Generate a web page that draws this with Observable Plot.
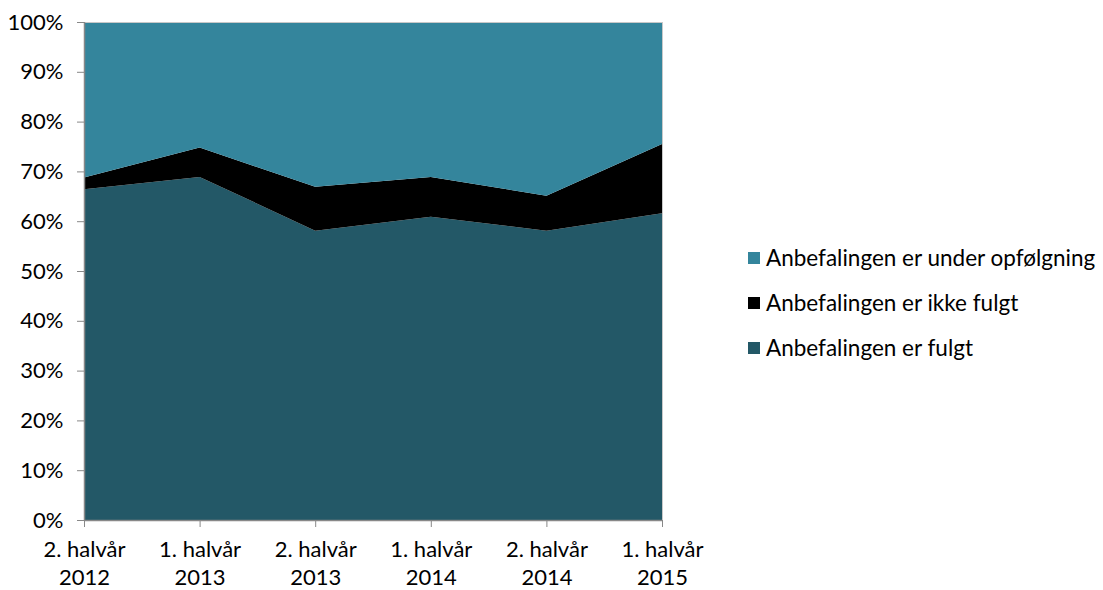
<!DOCTYPE html>
<html>
<head>
<meta charset="utf-8">
<script src="https://cdn.jsdelivr.net/npm/d3@7"></script>
<script src="https://cdn.jsdelivr.net/npm/@observablehq/plot@0.6"></script>
<style>
  html, body { margin: 0; padding: 0; background: #fff; }
  #wrap { position: relative; width: 1103px; height: 590px; font-family: Lato, "Open Sans", sans-serif; }
  #legend { position: absolute; left: 748px; top: 235px; font-size: 22.5px; color: #000; }
  .row { display: flex; align-items: center; height: 45px; white-space: nowrap; }
  .sw { width: 12px; height: 12px; margin-right: 6px; }
</style>
</head>
<body>
<div id="wrap"></div>
<script>
const periods = ["2. halvår\n2012", "1. halvår\n2013", "2. halvår\n2013", "1. halvår\n2014", "2. halvår\n2014", "1. halvår\n2015"];
const seriesNames = ["Anbefalingen er fulgt", "Anbefalingen er ikke fulgt", "Anbefalingen er under opfølgning"];
const fulgt = [66.4, 68.9, 58.1, 60.9, 58.1, 61.6];
const ikkeFulgt = [2.4, 5.9, 8.8, 8.0, 7.0, 13.9];
const underOpfolgning = [31.2, 25.2, 33.1, 31.1, 34.9, 24.5];
const yTicks = [0, 10, 20, 30, 40, 50, 60, 70, 80, 90, 100];
const colors = ["#235867", "#000000", "#34859c"];

const seriesValues = [fulgt, ikkeFulgt, underOpfolgning];
const data = [];
seriesNames.forEach((s, si) => {
  periods.forEach((p, i) => data.push({ i, period: p, series: s, value: seriesValues[si][i] }));
});

const chart = Plot.plot({
  width: 1103,
  height: 590,
  marginLeft: 84,
  marginRight: 441,
  marginTop: 22,
  marginBottom: 70,
  style: { fontFamily: "Lato, 'Open Sans', sans-serif", fontSize: "22px", color: "#000", background: "#fff" },
  x: { domain: [0, periods.length - 1], label: null },
  y: { domain: [0, 100], label: null },
  color: { domain: seriesNames, range: colors },
  marks: [
    Plot.areaY(data, { x: "i", y: "value", fill: "series", order: seriesNames, curve: "linear" }),
    Plot.ruleY([100], { stroke: "#c8c8c8", strokeWidth: 1 }),
    Plot.ruleX([periods.length - 1], { stroke: "#c8c8c8", strokeWidth: 1 }),
    Plot.ruleX([0], { stroke: "#888", strokeWidth: 1.5 }),
    Plot.ruleY([0], { stroke: "#888", strokeWidth: 1.5 }),
    Plot.axisY({ ticks: yTicks, tickFormat: d => d + "%", tickSize: 7, tickPadding: 14, stroke: "#888", color: "#000", fontSize: 22, label: null }),
    Plot.axisX({ ticks: d3.range(periods.length), tickFormat: i => periods[i], tickSize: 7, tickPadding: 10, stroke: "#888", fontSize: 22, label: null, lineHeight: 1.25 })
  ]
});
document.getElementById("wrap").appendChild(chart);

const legend = document.createElement("div");
legend.id = "legend";
[2, 1, 0].forEach(k => {
  const row = document.createElement("div");
  row.className = "row";
  const sw = document.createElement("div");
  sw.className = "sw";
  sw.style.background = colors[k];
  const t = document.createElement("span");
  t.textContent = seriesNames[k];
  row.appendChild(sw); row.appendChild(t);
  legend.appendChild(row);
});
document.getElementById("wrap").appendChild(legend);
</script>
</body>
</html>
